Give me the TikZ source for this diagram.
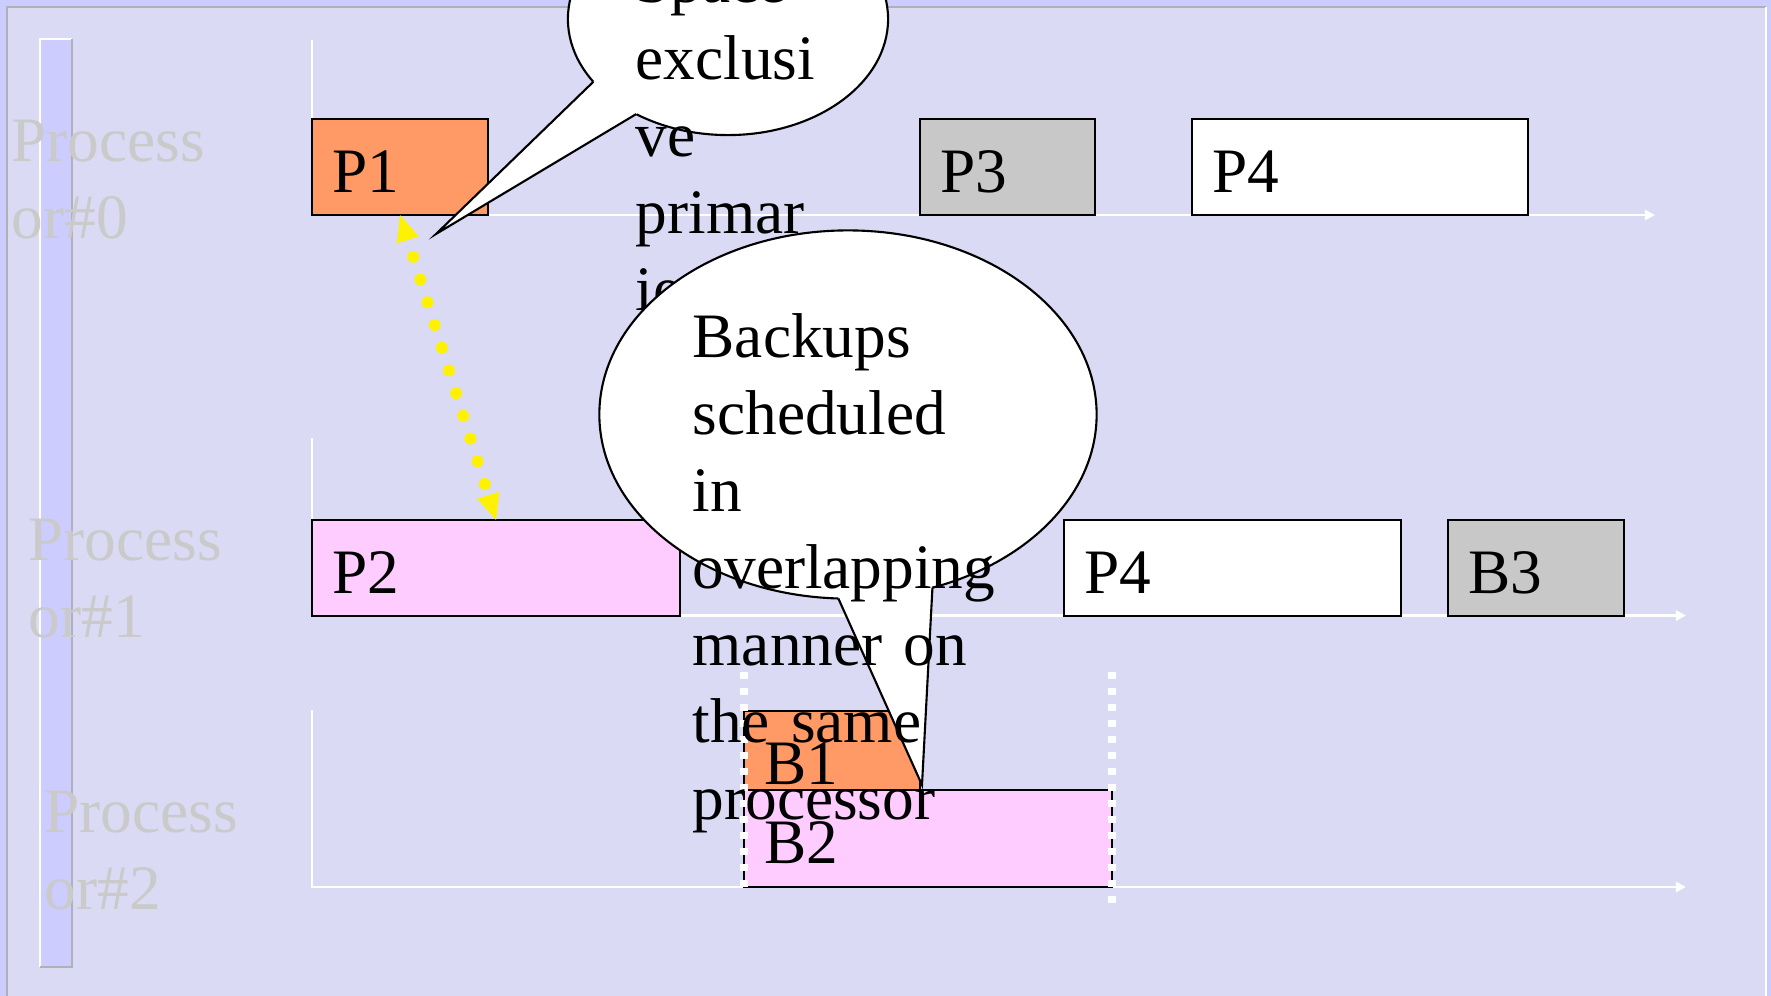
\documentclass[tikz,border=0pt]{standalone}
\usepackage{fontspec}
\setmainfont{Liberation Serif}
\usetikzlibrary{arrows.meta,shapes.geometric,calc}

\definecolor{dia}{HTML}{CCCCFF}
\definecolor{paneel}{HTML}{DADAF4}
\definecolor{rand}{HTML}{B0B0B8}
\definecolor{labelgrijs}{HTML}{CACACA}
\definecolor{oranje}{HTML}{FF9966}
\definecolor{roze}{HTML}{FFCCFF}
\definecolor{grijs}{HTML}{C8C8C8}

\tikzset{
  txt/.style={font=\fontsize{18pt}{21.9pt}\selectfont},
  job/.style={txt, draw=black, line width=0.7pt, anchor=north west, outer sep=0pt,
    inner xsep=0.2cm, inner ysep=0pt, align=left, text height=0.73cm, text depth=0.23cm},
  as/.style={draw=white, line width=0.7pt, -{Triangle[length=0.1cm,width=0.1cm]}},
  proc/.style={txt, text=labelgrijs, anchor=base west, inner sep=0pt, text width=3cm, align=left},
  ballon/.style={ellipse, draw=black, line width=0.6pt, fill=white, inner sep=0pt, outer sep=0pt},
  uitleg/.style={txt, anchor=base west, inner sep=0pt, text width=4cm, align=left},
  gids/.style={draw=white, line width=0.08cm, dash pattern=on 0.07cm off 0.09cm},
  paar/.style={draw=yellow, line width=0.12cm, line cap=round,
    dash pattern=on 0pt off 0.238cm, dash phase=0.06cm,
    {Triangle[length=0.26cm,width=0.23cm,line width=0pt]}-{Triangle[length=0.26cm,width=0.23cm,line width=0pt]}},
}

\begin{document}
\begin{tikzpicture}[x=0.01cm, y=-0.01cm]
    \useasboundingbox (0,0) rectangle (1771,996);
    \clip (0,0) rectangle (1771,996);

    % Achtergrond
    \fill[dia] (0,0) rectangle (1771,996);
    \fill[paneel] (7,7) rectangle (1766,1000);
    \draw[rand, line width=0.6pt] (7,1000) -- (7,7) -- (1766,7);
    \draw[white, line width=0.6pt] (1766,7) -- (1766,1000);

    % Balk links
    \fill[dia] (40,39) rectangle (72,967);
    \draw[white, line width=0.5pt] (40,967) -- (40,39) -- (72,39);
    \draw[rand, line width=0.5pt] (72,39) -- (72,967) -- (40,967);

    % Processoren
    \node[proc] (cpu0) at (11,161.5) {Process\\or\#0};
    \node[proc] (cpu1) at (28,560) {Process\\or\#1};
    \node[proc] (cpu2) at (44,832) {Process\\or\#2};

    % Assen
    \foreach \boven/\basis/\eind in {40/215/1655, 438/615.5/1686, 710/887/1686} {
      \draw[as] (312,\boven) -- (312,\basis) -- (\eind,\basis);
    }

    % Taken
    \node[job, fill=oranje, text width=1.36cm] (p1) at (312,119) {P1};
    \node[job, fill=grijs, text width=1.35cm] (p3) at (920,119) {P3};
    \node[job, fill=white, text width=2.96cm] (p4a) at (1192,119) {P4};
    \node[job, fill=roze, text width=3.28cm] (p2) at (312,520) {P2};
    \node[job, fill=white, text width=2.97cm] (p4b) at (1064,520) {P4};
    \node[job, fill=grijs, text width=1.36cm] (b3) at (1448,520) {B3};
    \node[job, fill=oranje, text width=1.36cm, text depth=0.06cm] (b1) at (744,711) {B1};
    \node[job, fill=roze, text width=3.28cm, text depth=0.24cm] (b2) at (744,790) {B2};

    % Hulplijnen
    \draw[gids] ($(b2.south west)+(0,-215)$) -- (b2.south west);
    \draw[gids] ($(b2.south east)+(0,-215)$) -- ($(b2.south east)+(0,16)$);

    % P1 <-> P2
    \draw[paar] (p1.south) -- (p2.north);

    % Ballonnen
    \node[ballon, minimum width=3.2cm, minimum height=2.32cm] (ruimte) at (728,19) {};
    \coordinate (ruimtepunt) at (436,234);
    \fill[white] (ruimte.205) -- (ruimtepunt) -- (ruimte.226) -- (ruimte.center) -- cycle;
    \draw[line width=0.6pt] (ruimte.205) -- (ruimtepunt) -- (ruimte.226);
    \node[uitleg] (ruimtetekst) at (635,2) {Space\\exclusi\\ve\\primar\\ies};

    \node[ballon, minimum width=4.97cm, minimum height=3.68cm] (backup) at (848,414.5) {};
    \coordinate (backuppunt) at (922,785);
    \fill[white] (backup.267) -- (backuppunt) -- (backup.296) -- (backup.center) -- cycle;
    \draw[line width=0.6pt] (backup.267) -- (backuppunt) -- (backup.296);
    \node[uitleg] (backuptekst) at (692,357) {Backups\\scheduled\\in\\overlapping\\manner on\\the same\\processor};
\end{tikzpicture}
\end{document}
